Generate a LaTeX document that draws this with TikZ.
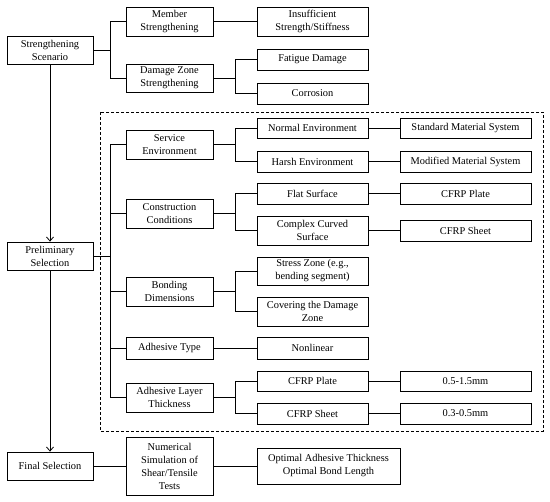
\documentclass[tikz,border=0pt]{standalone}
\usepackage{fontspec}
\setmainfont{Liberation Serif}
\usetikzlibrary{arrows.meta}
\tikzset{
  bx/.style={draw, line width=0.8pt, inner sep=0pt, align=center,
    font=\fontsize{10.4}{13}\selectfont},
  ln/.style={line width=0.8pt},
  arr/.style={line width=0.8pt, -{Straight Barb[length=4pt,width=7pt,line width=0.8pt]}},
  dbox/.style={draw, line width=0.8pt, dash pattern=on 3pt off 2pt}
}
\newcommand\bx[6]{\node[bx, minimum width={#4pt-#2pt}, minimum height={#5pt-#3pt}] (#1) at ({(#2+#4)/2},{(#3+#5)/2}) {#6};}
\begin{document}
\begin{tikzpicture}[x=1pt,y=-1pt]
\useasboundingbox (0,0) rectangle (550,502);
\draw[dbox] (100,112) rectangle (543,431);
\bx{scen}{7}{36}{93}{64}{Strengthening\\Scenario}
\bx{member}{126}{7}{213}{36}{Member\\Strengthening}
\bx{damage}{126}{64}{213}{92}{Damage Zone\\Strengthening}
\bx{insuff}{257}{7}{368}{36}{Insufficient\\Strength/Stiffness}
\bx{fatigue}{257}{49}{368}{70}{Fatigue Damage}
\bx{corr}{257}{83}{368}{104}{Corrosion}
\bx{prelim}{7}{242}{93}{270}{Preliminary\\Selection}
\bx{service}{126}{130}{213}{159}{Service\\Environment}
\bx{constr}{126}{199}{213}{228}{Construction\\Conditions}
\bx{bonding}{126}{277}{213}{306}{Bonding\\Dimensions}
\bx{adhtype}{126}{337}{213}{359}{Adhesive Type}
\bx{adhlayer}{126}{383}{213}{412}{Adhesive Layer\\Thickness}
\bx{normal}{257}{118}{368}{138}{Normal Environment}
\bx{harsh}{257}{151}{368}{172}{Harsh Environment}
\bx{flat}{257}{183}{368}{204}{Flat Surface}
\bx{complex}{257}{216}{368}{245}{Complex Curved\\Surface}
\bx{stress}{257}{257}{368}{285}{Stress Zone (e.g.,\\bending segment)}
\bx{covering}{257}{297}{368}{326}{Covering the Damage\\Zone}
\bx{nonlin}{257}{337}{368}{359}{Nonlinear}
\bx{plateb}{257}{371}{368}{391}{CFRP Plate}
\bx{sheetb}{257}{403}{368}{424}{CFRP Sheet}
\bx{standard}{400}{118}{531}{138}{Standard Material System}
\bx{modified}{400}{151}{531}{172}{Modified Material System}
\bx{cplate}{400}{183}{531}{204}{CFRP Plate}
\bx{csheet}{400}{220}{531}{241}{CFRP Sheet}
\bx{rA}{400}{371}{531}{391}{0.5-1.5mm}
\bx{rB}{400}{403}{531}{424}{0.3-0.5mm}
\bx{final}{7}{452}{93}{480}{Final Selection}
\bx{numsim}{126}{437}{213}{495}{Numerical\\Simulation of\\Shear/Tensile\\Tests}
\bx{optimal}{257}{448}{400}{484}{Optimal Adhesive Thickness\\Optimal Bond Length}
\coordinate (b1) at (110,0);
\coordinate (b2) at (235,0);
% top tree
\draw[ln] (scen.east) -- (scen.east -| b1);
\draw[ln] (member.west) -- (member.west -| b1) -- (damage.west -| b1) -- (damage.west);
\draw[ln] (member.east) -- (insuff.west);
\draw[ln] (damage.east) -- (damage.east -| b2);
\draw[ln] (fatigue.west) -- (fatigue.west -| b2) -- (corr.west -| b2) -- (corr.west);
% preliminary tree
\draw[ln] (prelim.east) -- (prelim.east -| b1);
\draw[ln] (service.west) -- (service.west -| b1) -- (adhlayer.west -| b1) -- (adhlayer.west);
\draw[ln] (constr.west) -- (constr.west -| b1);
\draw[ln] (bonding.west) -- (bonding.west -| b1);
\draw[ln] (adhtype.west) -- (adhtype.west -| b1);
\draw[ln] (service.east) -- (service.east -| b2);
\draw[ln] (normal.west) -- (normal.west -| b2) -- (harsh.west -| b2) -- (harsh.west);
\draw[ln] (constr.east) -- (constr.east -| b2);
\draw[ln] (flat.west) -- (flat.west -| b2) -- (complex.west -| b2) -- (complex.west);
\draw[ln] (bonding.east) -- (bonding.east -| b2);
\draw[ln] (stress.west) -- (stress.west -| b2) -- (covering.west -| b2) -- (covering.west);
\draw[ln] (adhtype.east) -- (nonlin.west);
\draw[ln] (adhlayer.east) -- (adhlayer.east -| b2);
\draw[ln] (plateb.west) -- (plateb.west -| b2) -- (sheetb.west -| b2) -- (sheetb.west);
\draw[ln] (normal.east) -- (standard.west);
\draw[ln] (harsh.east) -- (modified.west);
\draw[ln] (flat.east) -- (cplate.west);
\draw[ln] (complex.east) -- (csheet.west);
\draw[ln] (plateb.east) -- (rA.west);
\draw[ln] (sheetb.east) -- (rB.west);
% final
\draw[ln] (final.east) -- (numsim.west);
\draw[ln] (numsim.east) -- (optimal.west);
\draw[arr] (scen.south) -- (prelim.north);
\draw[arr] (prelim.south) -- (final.north);
\end{tikzpicture}
\end{document}
